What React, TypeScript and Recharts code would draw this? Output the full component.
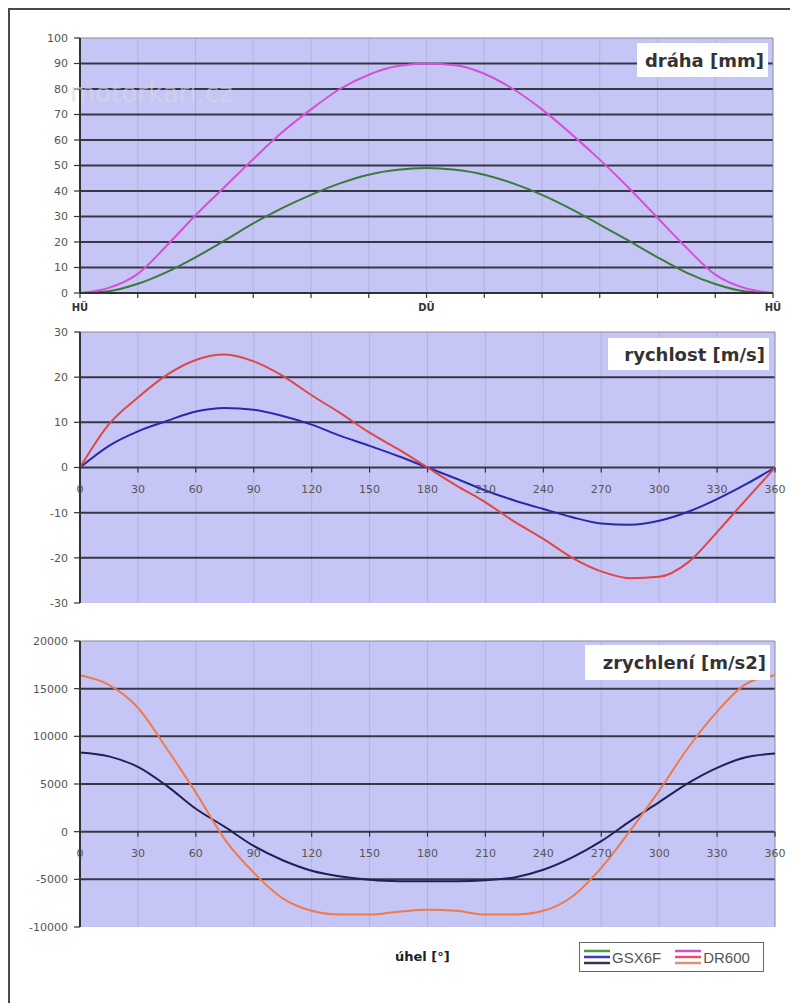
import React from 'react';
import { LineChart, Line, XAxis, YAxis, CartesianGrid } from 'recharts';

// ---------- data ----------
const ANGLES = [0, 15, 30, 45, 60, 75, 90, 105, 120, 135, 150, 165, 180, 195, 210, 225, 240, 255, 270, 285, 300, 315, 330, 345, 360];
const X_TICKS = [0, 30, 60, 90, 120, 150, 180, 210, 240, 270, 300, 330, 360];
const X1_LABELS: Record<number, string> = { 0: 'HÜ', 180: 'DÜ', 360: 'HÜ' };
const SERIES_NAMES = ['GSX6F', 'DR600'];

// dráha [mm]
const DRAHA_GSX = [0, 0.7, 3.6, 8.2, 14, 20.5, 27.3, 33.3, 38.5, 43, 46.4, 48.3, 49, 48.3, 46.4, 43, 38.5, 33, 26.8, 20.5, 14, 8, 3.5, 0.7, 0];
const DRAHA_DR = [0, 2, 7.5, 18.5, 30.5, 41.5, 52.5, 63, 72, 80, 85.6, 89, 90, 89.3, 86, 80, 72, 62.5, 52.3, 41.3, 29.5, 17.8, 7.2, 2, 0];
// rychlost [m/s]
const RYCH_GSX = [0, 4.8, 8, 10.3, 12.4, 13.2, 12.8, 11.4, 9.5, 7, 4.8, 2.5, 0, -2.5, -5.1, -7.3, -9.2, -11, -12.4, -12.7, -11.8, -9.8, -7, -3.7, 0];
const RYCH_DR = [0, 9.6, 15.5, 20.5, 23.8, 25, 23.5, 20.3, 16, 12, 7.7, 4, 0, -4, -7.7, -12, -15.8, -20, -23, -24.5, -24.2, -21, -14.3, -7.1, 0];
// zrychlení [m/s2]
const ZRYCH_GSX = [8300, 7900, 6800, 4800, 2400, 500, -1500, -3000, -4100, -4700, -5050, -5200, -5200, -5200, -5100, -4800, -4000, -2700, -1000, 1100, 3100, 5100, 6700, 7800, 8200];
const ZRYCH_DR = [16400, 15400, 13000, 8700, 4100, -800, -4300, -7000, -8300, -8700, -8700, -8400, -8200, -8300, -8700, -8700, -8300, -6800, -3800, 100, 4300, 8800, 12600, 15500, 16400];

const Y1_TICKS = [0, 10, 20, 30, 40, 50, 60, 70, 80, 90, 100];
const Y2_TICKS = [-30, -20, -10, 0, 10, 20, 30];
const Y3_TICKS = [-10000, -5000, 0, 5000, 10000, 15000, 20000];

const TITLES = ['dráha [mm]', 'rychlost [m/s]', 'zrychlení [m/s2]'];
const X_TITLE = 'úhel [°]';
const WATERMARK = 'motorkari.cz';

// ---------- style ----------
const FONT = '"DejaVu Sans", sans-serif';
const BG = '#C6C6F6';
const GRID_DARK = '#363645';
const AXIS = '#333';
const LABEL = '#555';

const COLORS = {
  draha: ['#3C7A3C', '#D64FD6'],
  rych: ['#2A2AA8', '#E04646'],
  zrych: ['#202058', '#EE7A4A'],
};
const LEGEND_ICON = [
  ['#4A9A4A', '#3A3AC8', '#34344E'],
  ['#D050D0', '#E05070', '#E09070'],
];

const rows = (a: number[], b: number[]) => ANGLES.map((ang, i) => ({ ang, gsx: a[i], dr: b[i] }));
const DATA1 = rows(DRAHA_GSX, DRAHA_DR);
const DATA2 = rows(RYCH_GSX, RYCH_DR);
const DATA3 = rows(ZRYCH_GSX, ZRYCH_DR);

const W = 790;
const tickStyle = { fontSize: 11, fill: LABEL, fontFamily: FONT };

function zeroTick(zeroY: number) {
  return (p: any) => {
    const { x, payload } = p;
    return (
      <g>
        <line x1={x} x2={x} y1={zeroY} y2={zeroY + 5} stroke={AXIS} strokeWidth={1.2} />
        <text x={x} y={zeroY + 22} textAnchor="middle" dominantBaseline="central" fontSize={11} fill={LABEL} fontFamily={FONT}>
          {payload.value}
        </text>
      </g>
    );
  };
}

function renderGrids(yTicks: number[]) {
  const inner = yTicks.slice(1, -1);
  const max = yTicks[yTicks.length - 1];
  return [
    <CartesianGrid key="g1" fill={BG} horizontal={false} vertical verticalValues={X_TICKS.slice(1, -1)} stroke="#B2B2DE" strokeWidth={1} />,
    <CartesianGrid key="g2" vertical={false} horizontal horizontalValues={inner} stroke={GRID_DARK} strokeWidth={2} />,
    <CartesianGrid key="g3" vertical horizontal horizontalValues={[max]} verticalValues={[360]} stroke="#8a8a9a" strokeWidth={1} />,
  ];
}

function lines(colors: string[]) {
  return [
    <Line key="gsx" type="monotone" dataKey="gsx" name={SERIES_NAMES[0]} stroke={colors[0]} strokeWidth={2} dot={false} isAnimationActive={false} />,
    <Line key="dr" type="monotone" dataKey="dr" name={SERIES_NAMES[1]} stroke={colors[1]} strokeWidth={2} dot={false} isAnimationActive={false} />,
  ];
}

function TitleBox({ text, left, top, width, height }: { text: string; left: number; top: number; width: number; height: number }) {
  return (
    <div
      style={{
        position: 'absolute', left, top, width, height, background: '#fff',
        display: 'flex', alignItems: 'center', justifyContent: 'flex-end', paddingRight: 4, boxSizing: 'border-box',
        fontFamily: FONT, fontSize: 18, fontWeight: 'bold', color: '#333', whiteSpace: 'nowrap',
      }}
    >
      {text}
    </div>
  );
}

export default function App() {
  const m1 = { top: 30, right: 25, left: 0, bottom: 0 };
  const m2 = { top: 14, right: 23, left: 0, bottom: 0 };
  const m3 = { top: 21, right: 23, left: 0, bottom: 0 };
  const h2 = 295, xh2 = 10;
  const h3 = 317, xh3 = 10;
  const plotH2 = h2 - m2.top - m2.bottom - xh2;
  const plotH3 = h3 - m3.top - m3.bottom - xh3;
  const zero2 = m2.top + (plotH2 * Y2_TICKS[Y2_TICKS.length - 1]) / (Y2_TICKS[Y2_TICKS.length - 1] - Y2_TICKS[0]);
  const zero3 = m3.top + (plotH3 * Y3_TICKS[Y3_TICKS.length - 1]) / (Y3_TICKS[Y3_TICKS.length - 1] - Y3_TICKS[0]);

  const yAxisCommon = {
    type: 'number' as const,
    width: 72,
    tick: tickStyle,
    tickSize: 6,
    tickMargin: 6,
    axisLine: { stroke: AXIS, strokeWidth: 2 },
    tickLine: { stroke: AXIS, strokeWidth: 1.2 },
    interval: 0 as const,
  };

  return (
    <div style={{ position: 'relative', width: W, height: 995, background: '#fff', fontFamily: FONT }}>
      <div style={{ position: 'absolute', left: 0, top: 0, width: W + 10, height: 1000, borderTop: '2px solid #4a4a4a', borderLeft: '2px solid #4a4a4a', boxSizing: 'border-box' }} />

      {/* chart 1 */}
      <div style={{ position: 'absolute', left: 0, top: 0 }}>
        <LineChart width={W} height={315} data={DATA1} margin={m1}>
          {renderGrids(Y1_TICKS)}
          <XAxis
            dataKey="ang" type="number" domain={[0, 360]} ticks={X_TICKS} interval={0} height={30}
            tickFormatter={(v: number) => X1_LABELS[v] ?? ''}
            tick={{ fontSize: 10, fontWeight: 'bold', fill: '#333', fontFamily: FONT }}
            tickSize={5} tickMargin={6}
            axisLine={{ stroke: AXIS, strokeWidth: 2 }} tickLine={{ stroke: AXIS, strokeWidth: 1.2 }}
          />
          <YAxis {...yAxisCommon} domain={[Y1_TICKS[0], Y1_TICKS[Y1_TICKS.length - 1]]} ticks={Y1_TICKS} />
          {lines(COLORS.draha)}
        </LineChart>
      </div>

      {/* chart 2 */}
      <div style={{ position: 'absolute', left: 0, top: 310 }}>
        <LineChart width={W} height={h2} data={DATA2} margin={m2}>
          {renderGrids(Y2_TICKS)}
          <XAxis dataKey="ang" type="number" domain={[0, 360]} ticks={X_TICKS} interval={0} height={xh2} axisLine={false} tickLine={false} tick={zeroTick(zero2)} />
          <YAxis {...yAxisCommon} domain={[Y2_TICKS[0], Y2_TICKS[Y2_TICKS.length - 1]]} ticks={Y2_TICKS} />
          {lines(COLORS.rych)}
        </LineChart>
      </div>

      {/* chart 3 */}
      <div style={{ position: 'absolute', left: 0, top: 612 }}>
        <LineChart width={W} height={h3} data={DATA3} margin={m3}>
          {renderGrids(Y3_TICKS)}
          <XAxis dataKey="ang" type="number" domain={[0, 360]} ticks={X_TICKS} interval={0} height={xh3} axisLine={false} tickLine={false} tick={zeroTick(zero3)} />
          <YAxis {...yAxisCommon} domain={[Y3_TICKS[0], Y3_TICKS[Y3_TICKS.length - 1]]} ticks={Y3_TICKS} />
          {lines(COLORS.zrych)}
        </LineChart>
      </div>

      {/* titles */}
      <TitleBox text={TITLES[0]} left={629} top={35} width={131} height={34} />
      <TitleBox text={TITLES[1]} left={600} top={330} width={161} height={32} />
      <TitleBox text={TITLES[2]} left={577} top={637} width={185} height={35} />

      {/* watermark */}
      <div style={{ position: 'absolute', left: 62, top: 70, fontSize: 26, color: 'rgba(215,215,222,0.6)', fontFamily: FONT, pointerEvents: 'none' }}>
        {WATERMARK}
      </div>

      {/* x title */}
      <div style={{ position: 'absolute', left: 387, top: 941, fontSize: 13, fontWeight: 'bold', color: '#222', fontFamily: FONT }}>
        {X_TITLE}
      </div>

      {/* legend */}
      <div style={{ position: 'absolute', left: 571, top: 934, width: 185, height: 30, border: '1.5px solid #666', background: '#fff', boxSizing: 'border-box', display: 'flex', alignItems: 'center', paddingLeft: 4 }}>
        {SERIES_NAMES.map((name, i) => (
          <div key={name} style={{ display: 'flex', alignItems: 'center', marginRight: i === 0 ? 14 : 0 }}>
            <svg width={26} height={18}>
              {LEGEND_ICON[i].map((c, j) => (
                <line key={j} x1={0} x2={26} y1={3 + j * 6} y2={3 + j * 6} stroke={c} strokeWidth={2.5} />
              ))}
            </svg>
            <span style={{ fontFamily: '"Liberation Sans", Arial, sans-serif', fontSize: 15, color: LABEL, marginLeft: 2 }}>{name}</span>
          </div>
        ))}
      </div>
    </div>
  );
}
